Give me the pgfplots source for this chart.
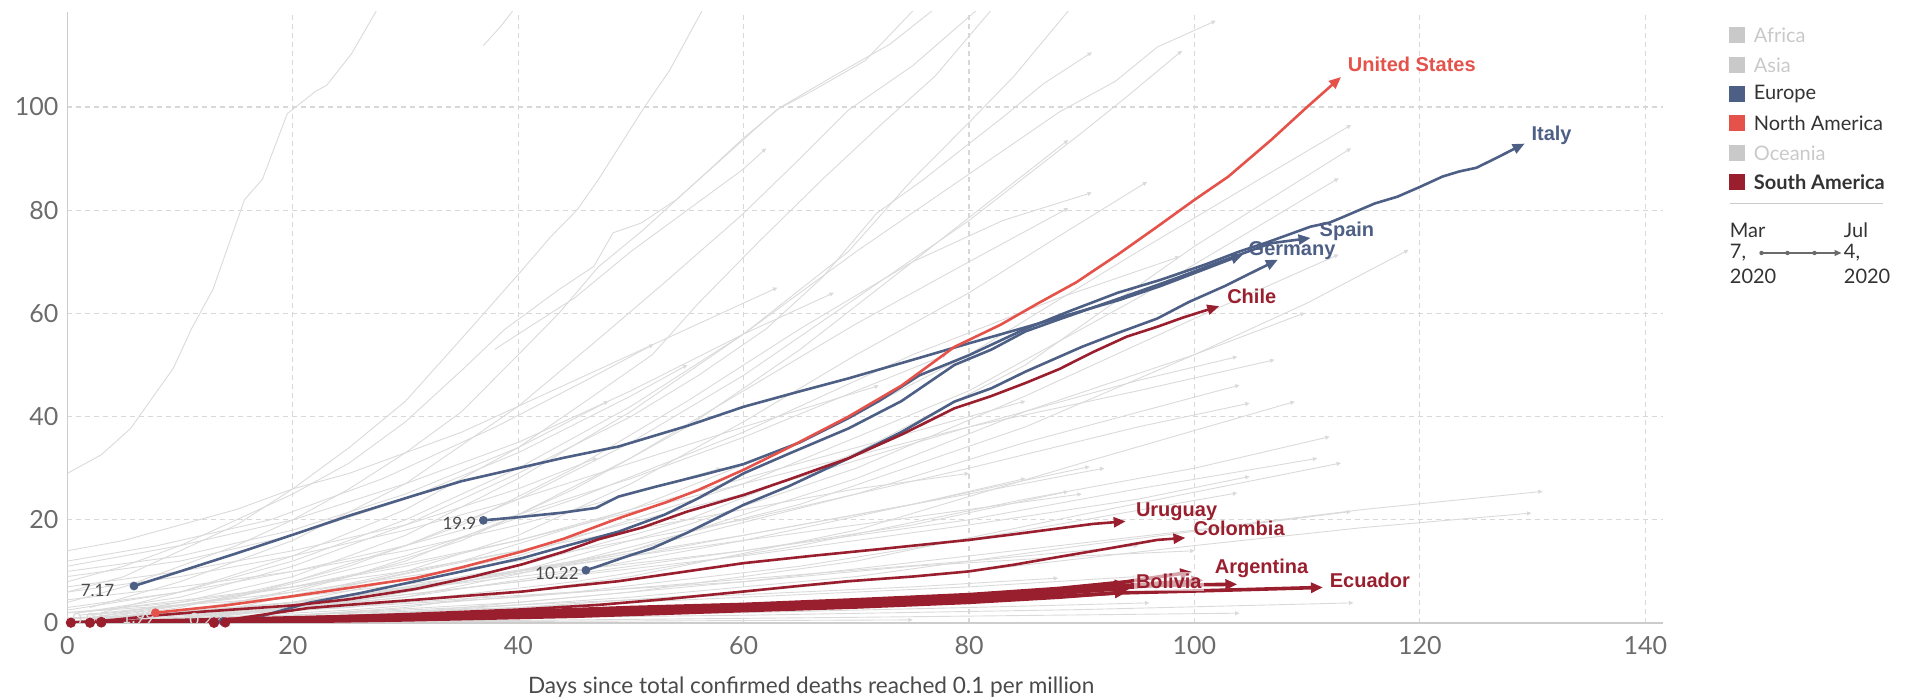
\documentclass[border=0pt]{standalone}
\usepackage{fontspec}
\setmainfont{Lato}
\newfontfamily\lab{Liberation Sans}
\usepackage{pgfplots}
\pgfplotsset{compat=1.18}
\usetikzlibrary{arrows.meta}
\definecolor{euc}{HTML}{4E5F86}
\definecolor{nac}{HTML}{E5524A}
\definecolor{sac}{HTML}{9A1F2E}
\definecolor{grayline}{HTML}{DADADA}
\definecolor{gridc}{HTML}{D8D8D8}
\definecolor{axisc}{HTML}{CCCCCC}
\definecolor{tickc}{HTML}{6B6B6B}
\definecolor{xlabc}{HTML}{4A4A4A}
\definecolor{lgc}{HTML}{C9C9C9}
\definecolor{txtc}{HTML}{333333}
\pgfplotsset{
  gl/.style={draw=grayline, line width=0.45pt, -{Triangle[length=2.2pt,width=2pt]}},
  hl/.style={line width=1.3pt, -{Triangle[length=6pt,width=5pt]}, mark=*, mark indices={1}, mark size=1.5pt, mark options={solid,-}},
  sab/.style={draw=sac, line width=1.8pt, -{Triangle[length=6pt,width=5pt]}, mark=*, mark indices={1}, mark size=1.6pt, mark options={solid,-,fill=sac}},
}
\begin{document}
\begin{tikzpicture}
\begin{axis}[
  scale only axis, width=797.9pt, height=305.5pt,
  xmin=0, xmax=141.6, ymin=0, ymax=118.4,
  axis x line*=bottom, axis y line*=left,
  axis line style={-},
  x axis line style={draw=axisc, line width=0.9pt},
  y axis line style={draw=axisc, line width=0.9pt},
  xtick={0,20,...,140}, ytick={0,20,...,100},
  major tick length=0pt,
  grid=major,
  major grid style={draw=gridc, line width=0.6pt, dash pattern=on 2.5pt off 2pt},
  tick label style={font=\fontsize{12.5}{14}\selectfont, text=tickc},
  /pgf/number format/assume math mode=true,
  xticklabel style={yshift=-3pt},
  yticklabel style={xshift=-1pt},
  xlabel={Days since total confirmed deaths reached 0.1 per million},
  xlabel style={at={(axis description cs:0.466,0)}, anchor=center, yshift=-32pt, font=\fontsize{11.3}{13}\selectfont, text=xlabc},
  clip=true,
]
% ---------------- grey countries ----------------
\addplot[gl] coordinates {(0,29)(3,32.6)(5.6,37.7)(9.4,49.4)(11,57)(12.9,64.6)(15.7,82)(17.3,86)(19.5,98.7)(22,103)(23,104.2)(25.2,110.3)(27.4,118.6)(28,122)};
\addplot[gl] coordinates {(36.9,111.9)(38.4,115.5)(39.5,118.6)(40.2,121)};
\addplot[gl] coordinates {(0,6)(5,9)(10,14)(15,19)(20,26)(25,34)(30,43)(35.7,56.9)(40.1,67.8)(42.9,74.9)(45.2,80)(47.1,85.9)(51.2,100)(53.4,107)(56.3,118.6)(57,122)};
\addplot[gl] coordinates {(0,8)(5,11)(10,15)(15,20)(20,25)(25,31)(30,39)(35,49)(38.8,56.9)(43.6,64.6)(46.7,69.1)(48.4,75.6)(50.9,77.5)(54,82)(57.6,89)(62.9,99.4)(66,103)(70.8,109)(75,118.6)(76,121)};
\addplot[gl] coordinates {(0,4)(5,7)(10,11)(15,15)(20,20)(25,26)(30,33)(35,41)(40,52)(43.6,60)(47.1,69)(51,76)(56.6,87.1)(60,94)(63.3,100)(68,106)(73,112.2)(76.7,118.6)(77.5,121)};
\addplot[gl] coordinates {(2,3)(10,8)(20,16)(30,27)(40,42)(47.1,55)(53,66)(59.8,79)(65,90)(69.3,99.4)(75,108)(80.6,118.6)(81.5,121)};
\addplot[gl] coordinates {(3,2)(10,6)(20,13)(30,22)(40,34)(46,43)(51.9,52)(56,62)(61.4,74)(67,86)(72.4,97)(77,106)(81.9,118.6)(82.5,121)};
\addplot[gl] coordinates {(1,2)(10,5)(20,11)(30,19)(40,29)(50,40)(56,48)(62,57)(67,67)(71.8,79.4)(76,86)(80,92.9)(83,98)(86.6,104.5)(90.9,110.6)};
\addplot[gl] coordinates {(2,1)(10,4)(20,9)(30,17)(40,28)(50,41)(60,56)(69.3,72)(75,86)(80,97)(84,106)(88.8,118.6)(89.5,121)};
\addplot[gl] coordinates {(0,2.5)(10,6)(20,12)(30,20)(40,30)(50,42)(60,56)(70,72)(80,87)(88,99)(93,105)(96.7,111.6)(101.9,116.7)};
\addplot[gl] coordinates {(4,1)(10,3)(20,8)(30,15)(40,24)(50,35)(60,48)(70,63)(80,78)(90,95)(94,102)(98.9,110.9)};
\addplot[gl] coordinates {(6,1)(15,4)(25,9)(35,16)(45,26)(55,38)(65,53)(75,70)(82,82)(88.8,93.6)};
\addplot[gl] coordinates {(2,0.5)(15,3)(30,10)(40,17)(50,27)(60,39)(70,52)(80,64)(88,75)(95.8,85.5)};
\addplot[gl] coordinates {(3,1)(15,5)(25,11)(35,19)(45,30)(55,43)(65,57)(75,70)(83,78)(90.9,83.4)};
\addplot[gl] coordinates {(8,1.5)(20,6)(30,12)(40,21)(50,32)(60,45)(70,58)(80,70)(88.8,80.4)};
\addplot[gl] coordinates {(5,1)(20,5)(35,12)(50,22)(65,35)(80,52)(95,72)(105,85)(113.9,96.5)};
\addplot[gl] coordinates {(10,1)(25,5)(40,11)(55,20)(70,33)(85,50)(100,73)(113.9,92)};
\addplot[gl] coordinates {(3,0.5)(20,4)(40,13)(60,27)(80,45)(95,63)(105,76)(112.8,86.2)};
\addplot[gl] coordinates {(8,0.5)(25,4)(40,10)(55,19)(70,30)(85,44)(100,59)(112.8,71.4)};
\addplot[gl] coordinates {(6,1)(25,5)(45,12)(65,23)(85,38)(100,52)(110,62)(119,72.3)};
\addplot[gl] coordinates {(2,1)(15,5)(30,13)(45,24)(60,37)(75,52)(88,63)(98.7,71)};
\addplot[gl] coordinates {(10,0.5)(30,5)(50,14)(70,28)(85,41)(100,52)(109.8,60.1)};
\addplot[gl] coordinates {(4,1)(20,5)(40,14)(60,25)(80,38)(95,47)(103.8,51.6)};
\addplot[gl] coordinates {(1,2)(20,7)(40,16)(60,27)(80,38)(95,45)(107.1,51)};
\addplot[gl] coordinates {(12,1)(30,6)(50,14)(70,25)(85,35)(104,46.1)};
\addplot[gl] coordinates {(2,1.5)(20,6)(40,12)(60,20)(80,30)(95,38)(104.9,42.6)};
\addplot[gl] coordinates {(14,0.5)(30,3)(50,9)(70,18)(90,31)(108.9,42.9)};
\addplot[gl] coordinates {(5,0.5)(25,3)(45,8)(65,15)(85,24)(100,30)(112,36.1)};
\addplot[gl] coordinates {(3,1)(20,4)(40,9)(60,14)(80,20)(95,26)(110.9,31.9)};
\addplot[gl] coordinates {(10,0.3)(30,2)(50,6)(70,12)(90,21)(113,31)};
\addplot[gl] coordinates {(2,0.8)(20,3)(40,8)(60,13)(80,19)(95,24)(104.9,28.4)};
\addplot[gl] coordinates {(8,0.5)(25,2.5)(45,6)(65,11)(85,18)(103.8,25.2)};
\addplot[gl] coordinates {(1,0.5)(20,1.5)(40,4)(60,8)(80,13)(100,18)(115,22)(130.9,25.5)};
\addplot[gl] coordinates {(4,0.3)(20,1)(40,3)(60,6)(80,10)(100,15)(115,18.5)(129.9,21.3)};
\addplot[gl] coordinates {(10,0.3)(30,2)(50,5)(70,9)(90,15)(113.9,21.6)};
\addplot[gl] coordinates {(3,0.2)(30,0.8)(60,1.5)(90,2.6)(114.1,3.9)};
\addplot[gl] coordinates {(10,0.1)(40,0.5)(70,1.1)(104,1.9)};
\addplot[gl] coordinates {(5,0.3)(30,1)(60,2)(80,3)(96,3.9)};
\addplot[gl] coordinates {(6,1)(20,4)(40,10)(60,17)(75,23)(90.7,30.3)};
\addplot[gl] coordinates {(2,0.5)(20,3)(40,8)(60,14)(75,19)(88.8,25.5)};
\addplot[gl] coordinates {(0,0.3)(20,1.5)(40,3.5)(60,5.5)(75,7)(87.9,8.7)};
\addplot[gl] coordinates {(5,0.05)(40,0.3)(75,0.6)};
\addplot[gl] coordinates {(0,14)(5,16)(10,19)(15,22)(20,26)(25,29)(30,33)(35,37)(40,42)(45,47)(50,52)(55,57)(60,62)(63,65)};
\addplot[gl] coordinates {(0,11)(10,15)(20,20)(30,27)(40,35)(50,45)(60,56)(68,64)};
\addplot[gl] coordinates {(0,9)(10,12)(20,17)(30,24)(40,33)(50,44)(55,50)};
\addplot[gl] coordinates {(0,12)(8,15)(18,20)(28,28)(38,38)(46,47)(52,54)};
\addplot[gl] coordinates {(37.9,53)(40,56)(45,63)(50,72)(55,80)(60,88)(62,92)};
\addplot[gl] coordinates {(0,3)(10,6)(20,10)(30,15)(40,21)(50,28)(60,36)(70,45)(78,52)};
\addplot[gl] coordinates {(1,1.5)(10,3.5)(20,7)(30,11)(40,16)(50,22)(60,28)(70,34)(80,40)(85,43)};
\addplot[gl] coordinates {(3,0.5)(15,2)(30,5)(45,10)(60,16)(75,23)(85,28)};
\addplot[gl] coordinates {(0,6)(10,9)(20,13)(30,18)(40,24)(50,31)(60,38)(72,46)};
\addplot[gl] coordinates {(0,2)(10,4)(20,7)(30,10)(40,14)(50,18)(60,22)(70,26)(80,29)};
\addplot[gl] coordinates {(0,1)(15,2)(30,4)(45,6)(60,8)(75,11)(90,13)(100,14)};
\addplot[gl] coordinates {(2,0.5)(20,1.5)(40,3)(60,5)(80,7)(95,9)};
\addplot[gl] coordinates {(0,4.5)(10,7)(20,10)(30,14)(40,19)(50,25)(58,30)};
\addplot[gl] coordinates {(0,7)(10,10)(20,14)(30,19)(40,26)(47,32)};
\addplot[gl] coordinates {(5,1)(20,4)(35,8)(50,13)(65,19)(80,25)(92,30)};
\addplot[gl] coordinates {(0,0.8)(20,2.5)(40,5)(60,8.5)(80,12)(95,15)};
\addplot[gl] coordinates {(0,2)(20,5)(40,10)(60,16)(80,22)(90,25)};
\addplot[gl] coordinates {(0,10)(10,13)(20,18)(30,25)(40,34)(48,43)};
% ---------------- Europe ----------------
\addplot[hl, draw=euc, mark options={fill=euc}] coordinates {(5.9,7.17)(10,10)(15,13.5)(20,17.1)(25,20.8)(30.9,24.8)(35,27.5)(40,30)(44,32)(48.9,34.2)(55,38.2)(60,41.9)(65,44.9)(69.3,47.4)(75,51)(80,54.2)(85,57.3)(88,59.2)(93.2,62.5)(97,65.3)(100,67.8)(104.3,71.4)};
\addplot[hl, draw=euc, mark options={fill=euc}] coordinates {(36.9,19.9)(40,20.5)(44,21.4)(46.9,22.3)(48.9,24.5)(52,26.3)(56,28.5)(60,30.8)(65,35)(69.3,39.7)(72,43)(75.6,48)(80,51.9)(85,57)(89,60.5)(93.2,64)(97,66.5)(101,69.5)(104,72)(106.5,73.8)(110.3,76.8)(112,77.6)(113,78.5)(116,81.3)(118,82.6)(120,84.5)(122,86.5)(123.5,87.5)(125,88.2)(126.5,89.8)(129.3,92.9)};
\addplot[hl, draw=euc, mark options={fill=euc}] coordinates {(13.8,0.29)(17,1.2)(21.4,3.9)(26,5.8)(30.9,8.1)(35,10)(40.4,12.6)(44,14.8)(48.9,17.7)(53,21)(56,24.2)(60,29)(64,32.8)(69.3,37.7)(74,43)(78.7,50)(82,53)(85,56.5)(88.2,59)(93.2,62.8)(98,66.5)(102,69.8)(106.8,73.6)(110.3,74.6)};
\addplot[hl, draw=euc, mark options={fill=euc}] coordinates {(46,10.22)(47.1,11)(49.5,12.8)(51.9,14.5)(55,17.5)(60,22.9)(64,26.5)(69.3,31.9)(74,37)(78.7,42.9)(82,45.5)(85,48.7)(90,53.5)(93.2,56.2)(96.7,59)(99.5,62.2)(102.7,65.3)(107.4,70.4)};
% ---------------- North America ----------------
\addplot[hl, draw=nac, mark options={fill=nac}] coordinates {(7.8,1.99)(10,2.5)(14,3.4)(20,5.2)(25,6.8)(30.9,8.7)(35,10.8)(40.4,13.9)(44,16.3)(48.9,20.3)(53,23.3)(56,25.8)(60,29.7)(64,34)(69.3,40)(74,46)(78.7,53.5)(82.8,57.8)(86,61.8)(89.5,66)(93.2,71.4)(96.7,76.8)(100,82)(103,86.5)(106.8,93.6)(110,100)(113,105.8)};
% ---------------- South America ----------------
\addplot[sab] coordinates {(14,0.1)(20,0.4)(30,0.8)(40,1.5)(47,2)(55,2.6)(60,3)(70,3.8)(80,4.8)(87,5.6)(94.4,6.8)};
\addplot[sab] coordinates {(3,0.1)(10,0.3)(20,0.6)(30,1.0)(40,1.6)(50,2.2)(60,2.8)(70,3.6)(80,4.5)(88,5.8)(94,6.9)(97,7.3)(100,7.4)(103.8,7.5)};
\addplot[sab] coordinates {(0.3,0.06)(8,0.3)(15,0.5)(30,1.2)(47,2.2)(60,3)(70,3.6)(80,4.2)(87,5)(93,5.8)(100,6.2)(105,6.5)(111.4,6.9)};
\addplot[sab] coordinates {(3,0.2)(10,0.5)(20,1)(30,1.5)(40,2.2)(50,3)(60,3.6)(70,4.5)(80,5.5)(88,6.7)(94,8)(97,9)(99.8,9.9)};
\addplot[sab] coordinates {(13,0.1)(20,0.4)(30,0.9)(40,1.3)(47,1.8)(60,2.6)(70,3.4)(80,4.4)(88,5.8)(94,7.3)(100.8,8.3)};
\addplot[sab] coordinates {(2,0.05)(10,0.3)(20,0.7)(30,1.1)(40,1.7)(50,2.4)(60,3.2)(70,4)(80,5)(88,6.3)(94,7.6)};
\addplot[sab] coordinates {(13,0.05)(30,0.6)(45,1.3)(60,2.4)(70,3.1)(80,4)(88,5)(94,6)};
\addplot[hl, draw=sac, mark options={fill=sac}] coordinates {(3,0.1)(10,0.5)(20,1)(30,1.7)(40,2.6)(47.1,3.5)(53,4.6)(60,6.1)(65,7.2)(69.3,8.1)(75,9)(80,10)(84,11.3)(88.2,12.9)(92,14.3)(96.7,16.1)(99.2,16.5)};
\addplot[hl, draw=sac, mark options={fill=sac}] coordinates {(13,0.2)(17,1.5)(21.4,2.9)(26,3.7)(30.9,4.5)(35,5.2)(40.4,6.1)(44,7)(48.9,8.1)(54,9.7)(60,11.6)(66,13)(72,14.3)(80,16.1)(84,17.2)(88.2,18.4)(91,19.2)(93.9,19.7)};
\addplot[hl, draw=sac, mark options={fill=sac}] coordinates {(0.3,0.06)(4,0.6)(8,1.5)(12,2.2)(16,2.8)(20,3.4)(25,4.6)(30.9,6.6)(36,9)(40.4,11.4)(44,13.8)(47.1,16.2)(51,18.5)(55,21.6)(60,24.8)(64,27.8)(69.3,31.9)(74,36.5)(78.7,41.6)(82,44)(85,46.5)(88,49.2)(91,52.5)(94,55.5)(96.7,57.4)(99,59.2)(102.2,61.4)};
% ---------------- labels ----------------
\tikzset{cl/.style={anchor=west, inner sep=1pt, font=\lab\bfseries\fontsize{10}{11}\selectfont}}
\node[cl, text=nac] at (axis cs:113.4,108.2) {United States};
\node[cl, text=euc] at (axis cs:129.7,94.5) {Italy};
\node[cl, text=euc] at (axis cs:110.9,75.9) {Spain};
\node[cl, text=euc] at (axis cs:104.6,72.2) {Germany};
\node[cl, text=sac] at (axis cs:102.7,63.3) {Chile};
\node[cl, text=sac] at (axis cs:94.6,21.5) {Uruguay};
\node[cl, text=sac] at (axis cs:99.7,18.3) {Colombia};
\node[cl, text=sac] at (axis cs:101.6,10.6) {Argentina};
\node[cl, text=sac, fill=white, fill opacity=0.6, text opacity=1] at (axis cs:94.6,8.1) {Bolivia};
\node[cl, text=sac] at (axis cs:111.8,8.2) {Ecuador};
\tikzset{sl/.style={inner sep=0.6pt, font=\fontsize{8.5}{9}\selectfont, text=xlabc}}
\node[sl, anchor=east] at (axis cs:4.3,6.3) {7.17};
\node[sl, anchor=east] at (axis cs:36.4,19.3) {19.9};
\node[sl, anchor=east] at (axis cs:45.5,9.6) {10.22};
\tikzset{sw/.style={sl, text=white!85!black}}
\node[sw] at (axis cs:1.9,0.6) {0.06};
\node[sw] at (axis cs:6.3,1.0) {1.99};
\node[sw] at (axis cs:12.3,0.7) {0.29};
\end{axis}
% ---------------- legend ----------------
\tikzset{lt/.style={anchor=west, inner sep=0pt, font=\fontsize{10}{11}\selectfont}}
\def\sqx{830.5pt}
\def\tx{843pt}
\fill[lgc] (\sqx,290pt) rectangle ++(8pt,8pt);
\node[lt, text=lgc] at (\tx,294pt) {Africa};
\fill[lgc] (\sqx,275pt) rectangle ++(8pt,8pt);
\node[lt, text=lgc] at (\tx,279pt) {Asia};
\fill[euc] (\sqx,260.35pt) rectangle ++(8pt,8pt);
\node[lt, text=txtc] at (\tx,264.35pt) {Europe};
\fill[nac] (\sqx,245.85pt) rectangle ++(8pt,8pt);
\node[lt, text=txtc] at (\tx,249.85pt) {North America};
\fill[lgc] (\sqx,230.85pt) rectangle ++(8pt,8pt);
\node[lt, text=lgc] at (\tx,234.85pt) {Oceania};
\fill[sac] (\sqx,216.65pt) rectangle ++(8pt,8pt);
\node[lt, text=txtc, font=\bfseries\fontsize{10}{11}\selectfont] at (\tx,220.65pt) {South America};
\draw[axisc, line width=0.6pt] (831pt,209.85pt) -- (907.5pt,209.85pt);
\node[lt, text=txtc] at (831pt,196.5pt) {Mar};
\node[lt, text=txtc] at (831pt,185pt) {7,};
\node[lt, text=txtc] at (831pt,173.5pt) {2020};
\node[lt, text=txtc] at (888pt,196.5pt) {Jul};
\node[lt, text=txtc] at (888pt,185pt) {4,};
\node[lt, text=txtc] at (888pt,173.5pt) {2020};
\draw[tickc, line width=0.6pt, -{Triangle[length=3.5pt,width=3pt]}] (847pt,185pt) -- (887pt,185pt);
\fill[tickc] (847pt,185pt) circle (1.1pt) (860pt,185pt) circle (1.1pt) (873.5pt,185pt) circle (1.1pt);
\pgfresetboundingbox
\useasboundingbox (-33.75pt,-38pt) rectangle (920.25pt,311.5pt);
\end{tikzpicture}
\end{document}
